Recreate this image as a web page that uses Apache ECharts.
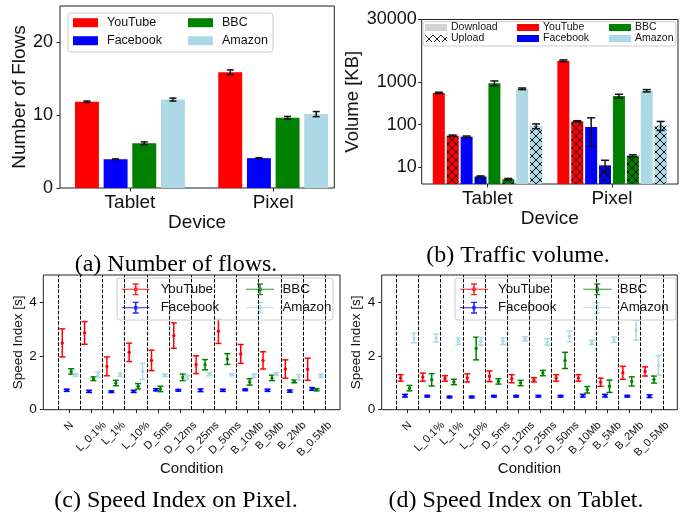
<!DOCTYPE html>
<html>
<head>
<meta charset="utf-8">
<script src="https://cdn.jsdelivr.net/npm/echarts@6/dist/echarts.min.js"></script>
<style>
  html, body { margin: 0; padding: 0; background: #fff; }
  #main { width: 694px; height: 520px; }
</style>
</head>
<body>
<div id="main"></div>
<script>
// categories
const devices = ["Tablet", "Pixel"];
const services = ["YouTube", "Facebook", "BBC", "Amazon"];
const conditions = ["N", "L_0.1%", "L_1%", "L_10%", "D_5ms", "D_12ms", "D_25ms", "D_50ms",
  "B_10Mb", "B_5Mb", "B_2Mb", "B_0.5Mb"];
const colors = ["#ff0000", "#0000ff", "#008000", "#add8e6"];

// (a) number of flows [Tablet, Pixel]
const flowsYouTube = [11.85, 15.9];
const flowsFacebook = [3.95, 4.1];
const flowsBBC = [6.15, 9.65];
const flowsAmazon = [12.15, 10.15];
const flowsYouTubeErr = [0.1, 0.32];
const flowsFacebookErr = [0.05, 0.06];
const flowsBBCErr = [0.18, 0.18];
const flowsAmazonErr = [0.2, 0.35];

// (b) traffic volume in KB [Tablet, Pixel]
const dlYouTube = [560, 3200];
const ulYouTube = [55, 120];
const dlFacebook = [52, 88];
const ulFacebook = [6.0, 11];
const dlBBC = [950, 470];
const ulBBC = [5.2, 18.5];
const dlAmazon = [700, 630];
const ulAmazon = [92, 96];
const dlYouTubeErr = [20, 150];
const ulYouTubeErr = [2, 4];
const dlFacebookErr = [2, 57];
const ulFacebookErr = [0.2, 3.5];
const dlBBCErr = [120, 50];
const ulBBCErr = [0.2, 1];
const dlAmazonErr = [30, 40];
const ulAmazonErr = [12, 23];

// (c) speed index on Pixel, seconds
const pixelYouTube = [2.48, 2.85, 1.61, 2.13, 1.83, 2.75, 1.67, 2.91, 2.07, 1.83, 1.51, 1.5];
const pixelYouTubeErr = [0.52, 0.42, 0.35, 0.34, 0.38, 0.47, 0.33, 0.45, 0.35, 0.32, 0.34, 0.41];
const pixelFacebook = [0.72, 0.68, 0.67, 0.68, 0.74, 0.72, 0.72, 0.72, 0.74, 0.72, 0.69, 0.77];
const pixelFacebookErr = [0.04, 0.04, 0.03, 0.04, 0.04, 0.03, 0.05, 0.04, 0.03, 0.04, 0.04, 0.05];
const pixelBBC = [1.42, 1.15, 0.99, 0.87, 0.77, 1.2, 1.67, 1.88, 1.03, 1.18, 1.05, 0.74];
const pixelBBCErr = [0.1, 0.07, 0.1, 0.1, 0.1, 0.12, 0.19, 0.2, 0.12, 0.1, 0.05, 0.04];
const pixelAmazon = [1.28, 1.3, 1.3, 1.42, 1.28, 1.2, 1.32, 1.3, 1.26, 1.32, 1.2, 1.26];
const pixelAmazonErr = [0.05, 0.1, 0.06, 0.3, 0.05, 0.08, 0.06, 0.04, 0.07, 0.05, 0.1, 0.06];

// (d) speed index on Tablet, seconds
const tabletYouTube = [1.18, 1.21, 1.16, 1.18, 1.24, 1.15, 1.11, 1.18, 1.18, 1.02, 1.37, 1.42];
const tabletYouTubeErr = [0.12, 0.15, 0.1, 0.15, 0.2, 0.15, 0.08, 0.12, 0.12, 0.15, 0.24, 0.17];
const tabletFacebook = [0.52, 0.5, 0.47, 0.47, 0.5, 0.5, 0.5, 0.5, 0.52, 0.52, 0.5, 0.5];
const tabletFacebookErr = [0.05, 0.03, 0.03, 0.03, 0.03, 0.03, 0.03, 0.03, 0.05, 0.05, 0.03, 0.05];
const tabletBBC = [0.8, 1.11, 1.03, 2.27, 1.05, 0.99, 1.36, 1.83, 0.74, 0.87, 1.05, 1.12];
const tabletBBCErr = [0.1, 0.23, 0.1, 0.42, 0.1, 0.1, 0.1, 0.3, 0.12, 0.23, 0.17, 0.13];
const tabletAmazon = [2.66, 2.66, 2.54, 2.54, 2.54, 2.63, 2.51, 2.72, 2.5, 2.6, 2.95, 1.65];
const tabletAmazonErr = [0.18, 0.15, 0.12, 0.14, 0.12, 0.08, 0.12, 0.2, 0.08, 0.1, 0.37, 0.36];

const flowsMeans = [flowsYouTube, flowsFacebook, flowsBBC, flowsAmazon];
const flowsErrs = [flowsYouTubeErr, flowsFacebookErr, flowsBBCErr, flowsAmazonErr];
const dlMeans = [dlYouTube, dlFacebook, dlBBC, dlAmazon];
const dlErrs = [dlYouTubeErr, dlFacebookErr, dlBBCErr, dlAmazonErr];
const ulMeans = [ulYouTube, ulFacebook, ulBBC, ulAmazon];
const ulErrs = [ulYouTubeErr, ulFacebookErr, ulBBCErr, ulAmazonErr];
const pixelMeans = [pixelYouTube, pixelFacebook, pixelBBC, pixelAmazon];
const pixelErrs = [pixelYouTubeErr, pixelFacebookErr, pixelBBCErr, pixelAmazonErr];
const tabletMeans = [tabletYouTube, tabletFacebook, tabletBBC, tabletAmazon];
const tabletErrs = [tabletYouTubeErr, tabletFacebookErr, tabletBBCErr, tabletAmazonErr];

const sans = "Liberation Sans";
const VOL_MIN = 4;

// hatch "xx" tile for the upload bars
function hatch(bg) {
  const c = document.createElement("canvas");
  c.width = 8;
  c.height = 8;
  const g = c.getContext("2d");
  if (bg) {
    g.fillStyle = bg;
    g.fillRect(0, 0, 8, 8);
  }
  g.strokeStyle = "#000";
  g.lineWidth = 0.9;
  g.beginPath();
  g.moveTo(0, 0); g.lineTo(8, 8);
  g.moveTo(8, 0); g.lineTo(0, 8);
  g.stroke();
  return { image: c, repeat: "repeat" };
}

function zip(means, errs) {
  return means.map((m, i) => [i, m, errs[i]]);
}

// bar with a black error bar, x offset / width in axis units
function barItem(offset, width, base, fill, capW) {
  return function (params, api) {
    const x = api.value(0) + offset;
    const v = api.value(1), e = api.value(2);
    const tl = api.coord([x - width / 2, v]);
    const br = api.coord([x + width / 2, base]);
    const hi = api.coord([x, v + e]);
    const lo = api.coord([x, v - e]);
    const st = { stroke: "#111", lineWidth: 1.5 };
    return {
      type: "group",
      children: [
        { type: "rect", shape: { x: tl[0], y: tl[1], width: br[0] - tl[0], height: br[1] - tl[1] }, style: { fill: fill } },
        { type: "line", shape: { x1: hi[0], y1: hi[1], x2: lo[0], y2: lo[1] }, style: st },
        { type: "line", shape: { x1: hi[0] - capW / 2, y1: hi[1], x2: hi[0] + capW / 2, y2: hi[1] }, style: st },
        { type: "line", shape: { x1: lo[0] - capW / 2, y1: lo[1], x2: lo[0] + capW / 2, y2: lo[1] }, style: st },
      ],
    };
  };
}

// point + error bar for the speed index panels
function errItem(offset, color) {
  return function (params, api) {
    const x = api.value(0) + offset;
    const m = api.value(1), e = api.value(2);
    const c = api.coord([x, m]);
    const hi = api.coord([x, m + e]);
    const lo = api.coord([x, m - e]);
    const st = { stroke: color, lineWidth: 1.5 };
    return {
      type: "group",
      children: [
        { type: "line", shape: { x1: hi[0], y1: hi[1], x2: lo[0], y2: lo[1] }, style: st },
        { type: "line", shape: { x1: hi[0] - 3, y1: hi[1], x2: hi[0] + 3, y2: hi[1] }, style: st },
        { type: "line", shape: { x1: lo[0] - 3, y1: lo[1], x2: lo[0] + 3, y2: lo[1] }, style: st },
        { type: "circle", shape: { cx: c[0], cy: c[1], r: 1.7 }, style: { fill: color } },
      ],
    };
  };
}

const series = [];

// (a)
services.forEach((s, k) => {
  series.push({
    type: "custom", name: s, xAxisIndex: 0, yAxisIndex: 0,
    itemStyle: { color: colors[k] },
    renderItem: barItem((k - 1.5) * 0.2, 0.167, 0, colors[k], 7),
    data: zip(flowsMeans[k], flowsErrs[k]),
  });
});

// (b)
services.forEach((s, k) => {
  series.push({
    type: "custom", name: s, xAxisIndex: 1, yAxisIndex: 1,
    itemStyle: { color: colors[k] },
    renderItem: barItem((2 * k - 3.5) * 0.1116, 0.0964, VOL_MIN, colors[k], 8),
    data: zip(dlMeans[k], dlErrs[k]),
  });
  series.push({
    type: "custom", name: s, xAxisIndex: 1, yAxisIndex: 1,
    itemStyle: { color: colors[k] },
    renderItem: barItem((2 * k + 1 - 3.5) * 0.1116, 0.0964, VOL_MIN, hatch(colors[k]), 8),
    data: zip(ulMeans[k], ulErrs[k]),
  });
});
series.push({ type: "custom", name: "Download", xAxisIndex: 1, yAxisIndex: 1, itemStyle: { color: "#d3d3d3" }, renderItem: () => null, data: [] });
series.push({ type: "custom", name: "Upload", xAxisIndex: 1, yAxisIndex: 1, itemStyle: { color: hatch(null) }, renderItem: () => null, data: [] });

// (c) and (d)
const bounds = [];
for (let i = 0; i <= conditions.length; i++) bounds.push({ xAxis: i - 0.5 });
[[pixelMeans, pixelErrs, 2], [tabletMeans, tabletErrs, 3]].forEach(([means, errs, ax]) => {
  services.forEach((s, k) => {
    const sr = {
      type: "custom", name: s, xAxisIndex: ax, yAxisIndex: ax,
      itemStyle: { color: colors[k] },
      renderItem: errItem((k - 1.5) * 0.2, colors[k]),
      data: zip(means[k], errs[k]),
    };
    if (k === 0) {
      sr.markLine = {
        silent: true, symbol: "none", label: { show: false },
        lineStyle: { color: "#000", width: 1, type: [3.7, 1.6] },
        emphasis: { disabled: true },
        data: bounds,
      };
    }
    series.push(sr);
  });
});

const frame = { show: true, borderColor: "#222", borderWidth: 1, backgroundColor: "transparent" };
const grids = [
  Object.assign({ left: 60, top: 6, width: 274.3, height: 182 }, frame),
  Object.assign({ left: 421.7, top: 19.5, width: 256.3, height: 164.5 }, frame),
  Object.assign({ left: 43.3, top: 275, width: 296.7, height: 134.7 }, frame),
  Object.assign({ left: 381.7, top: 275, width: 295.6, height: 134.7 }, frame),
];

const tickStyle = { show: true, length: 3.5, lineStyle: { color: "#222" } };
const noLine = { show: false, onZero: false };

function deviceAxis(grid, min, max, gap) {
  return {
    type: "value", gridIndex: grid, min: min, max: max,
    axisLine: noLine,
    axisTick: Object.assign({ customValues: [0, 1] }, tickStyle),
    axisLabel: { customValues: [0, 1], formatter: v => devices[Math.round(v)], fontSize: 19, color: "#111", margin: 5, fontFamily: sans },
    splitLine: { show: false },
    name: "Device", nameLocation: "middle", nameGap: gap,
    nameTextStyle: { fontSize: 19, color: "#111", fontFamily: sans },
  };
}

// rotated condition labels centred under their tick (like ha="center")
const measure = document.createElement("canvas").getContext("2d");
measure.font = '11px "Liberation Sans"';
const condRich = {};
conditions.forEach((c, i) => {
  const p = 0.5 * (measure.measureText(c).width + 8);
  condRich["c" + i] = { fontSize: 11, color: "#111", fontFamily: sans, padding: [p, p, 0, 0] };
});

function condAxis(grid) {
  const ticks = conditions.map((c, i) => i);
  return {
    type: "value", gridIndex: grid, min: -1.15, max: 12.15,
    axisLine: noLine,
    axisTick: Object.assign({ customValues: ticks }, tickStyle),
    axisLabel: {
      customValues: ticks, rotate: 45, align: "center", verticalAlign: "middle", margin: 11,
      formatter: v => { const i = Math.round(v); return "{c" + i + "|" + conditions[i] + "}"; },
      rich: condRich, fontSize: 11, color: "#111", fontFamily: sans,
    },
    splitLine: { show: false },
    name: "Condition", nameLocation: "middle", nameGap: 52,
    nameTextStyle: { fontSize: 15, color: "#111", fontFamily: sans },
  };
}

function speedAxis(grid) {
  return {
    type: "value", gridIndex: grid, min: 0, max: 5,
    axisLine: noLine,
    axisTick: Object.assign({ customValues: [0, 2, 4] }, tickStyle),
    axisLabel: { customValues: [0, 2, 4], fontSize: 13.5, color: "#111", margin: 6.5, fontFamily: sans },
    splitLine: { show: false },
    name: "Speed Index [s]", nameLocation: "middle", nameGap: 18, nameRotate: 90,
    nameTextStyle: { fontSize: 13.5, color: "#111", fontFamily: sans },
  };
}

const xAxes = [
  deviceAxis(0, -0.488, 1.426, 25),
  deviceAxis(1, -0.528, 1.53, 24),
  condAxis(2),
  condAxis(3),
];
const yAxes = [
  {
    type: "value", gridIndex: 0, min: 0, max: 25,
    axisLine: noLine,
    axisTick: Object.assign({ customValues: [0, 10, 20] }, tickStyle),
    axisLabel: { customValues: [0, 10, 20], fontSize: 18, color: "#111", margin: 7, fontFamily: sans },
    splitLine: { show: false },
    name: "Number of Flows", nameLocation: "middle", nameGap: 31, nameRotate: 90,
    nameTextStyle: { fontSize: 19, color: "#111", fontFamily: sans },
  },
  {
    type: "log", logBase: 10, gridIndex: 1, min: VOL_MIN, max: 30000,
    axisLine: noLine,
    axisTick: Object.assign({ customValues: [10, 100, 1000, 30000] }, tickStyle),
    axisLabel: { customValues: [10, 100, 1000, 30000], formatter: v => String(Math.round(v)), fontSize: 18, color: "#111", margin: 5, fontFamily: sans },
    splitLine: { show: false },
    name: "Volume [KB]", nameLocation: "middle", nameGap: 51, nameRotate: 90,
    nameTextStyle: { fontSize: 18.5, color: "#111", fontFamily: sans },
  },
  speedAxis(2),
  speedAxis(3),
];

// legends, one per column
function legendCol(left, top, names, o) {
  return Object.assign({
    left: left, top: top, orient: "vertical", padding: 0, selectedMode: false,
    data: names, z: 5,
    textStyle: { fontFamily: sans, color: "#111" },
  }, o);
}
const ebIcon = "path://M0,6.5H28V7.5H0Z M13.2,1H14.8V13H13.2Z M11,1H17V2.4H11Z M11,11.6H17V13H11Z M12.3,5.3H15.7V8.7H12.3Z";
const ebNames = names => names.map(n => ({ name: n, icon: ebIcon }));
const rectNames = names => names.map(n => ({ name: n, icon: "rect" }));
const legA = { itemWidth: 25, itemHeight: 9, itemGap: 4, textStyle: { fontFamily: sans, color: "#111", fontSize: 12.5, lineHeight: 14, padding: [0, 0, 0, 4] } };
const legB = { itemWidth: 22, itemHeight: 7, itemGap: 0, textStyle: { fontFamily: sans, color: "#111", fontSize: 10.5, lineHeight: 10, padding: [0, 0, 0, -1] } };
function legS(pad) {
  return { itemWidth: 28, itemHeight: 14, itemGap: 4.4, itemStyle: { opacity: 0.85 },
    textStyle: { fontFamily: sans, color: "#111", fontSize: 13.3, lineHeight: 14, padding: [0, 0, 0, pad] } };
}
const legends = [
  legendCol(73, 15.7, rectNames(["YouTube", "Facebook"]), legA),
  legendCol(188, 15.7, rectNames(["BBC", "Amazon"]), legA),
  legendCol(425, 22, rectNames(["Download", "Upload"]), legB),
  legendCol(517, 22, rectNames(["YouTube", "Facebook"]), legB),
  legendCol(609, 22, rectNames(["BBC", "Amazon"]), legB),
  legendCol(121.7, 282.3, ebNames(["YouTube", "Facebook"]), legS(6)),
  legendCol(246, 282.3, ebNames(["BBC", "Amazon"]), legS(3.5)),
  legendCol(460, 282.3, ebNames(["YouTube", "Facebook"]), legS(5)),
  legendCol(583.3, 282.3, ebNames(["BBC", "Amazon"]), legS(3.5)),
];

function box(x, y, w, h) {
  return { type: "rect", z: 3, shape: { x: x, y: y, width: w, height: h, r: 3 },
    style: { fill: "rgba(255,255,255,0.8)", stroke: "#cccccc", lineWidth: 1 } };
}
function caption(x, y, t) {
  return { type: "text", x: x, y: y, z: 5,
    style: { text: t, fill: "#000", font: '24px "Liberation Serif"', align: "center", verticalAlign: "middle" } };
}

const option = {
  animation: false,
  textStyle: { fontFamily: sans },
  grid: grids,
  xAxis: xAxes,
  yAxis: yAxes,
  legend: legends,
  series: series,
  graphic: [
    box(68, 13, 205, 39),
    box(423, 21.7, 253, 24.3),
    box(117, 278, 216, 42),
    box(455, 278, 221, 42),
    caption(176, 265, "(a) Number of flows."),
    caption(518, 256, "(b) Traffic volume."),
    caption(176, 501, "(c) Speed Index on Pixel."),
    caption(516, 501, "(d) Speed Index on Tablet."),
  ],
};

const myChart = echarts.init(document.getElementById("main"), null, { renderer: "canvas" });
myChart.setOption(option);
</script>
</body>
</html>
